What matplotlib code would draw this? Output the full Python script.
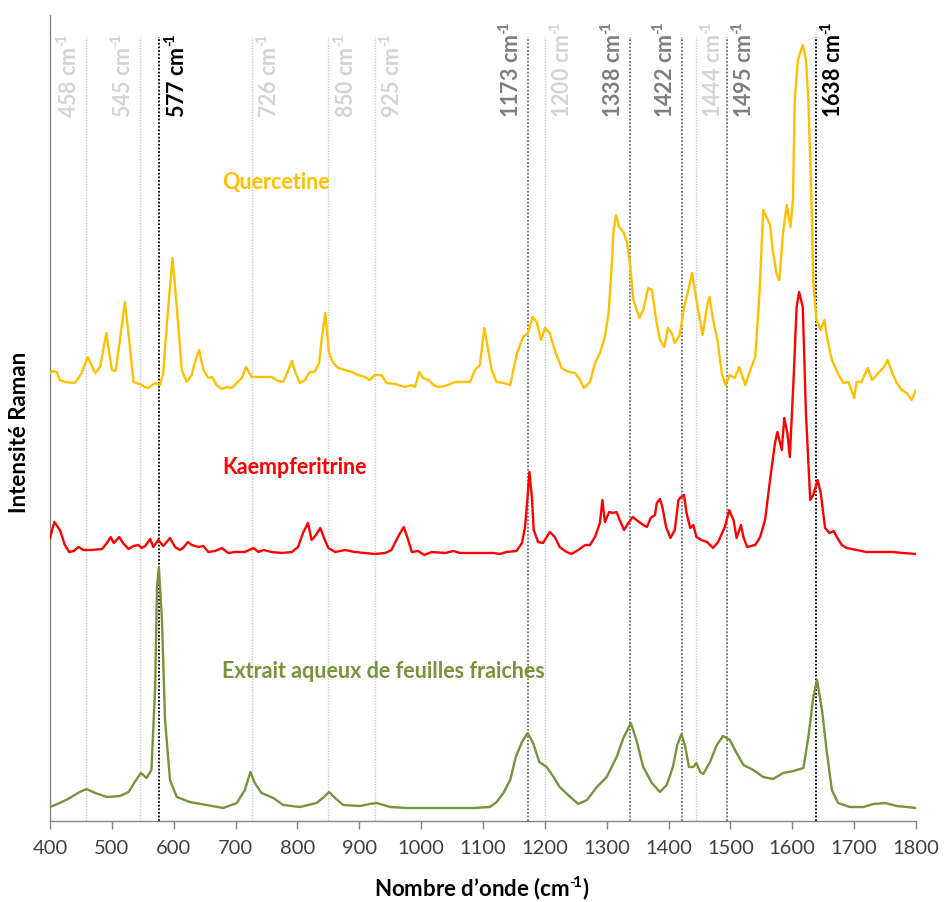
import numpy as np
import matplotlib
matplotlib.use("Agg")
from matplotlib import pyplot as plt

plt.rcParams['font.family'] = ['Lato', 'DejaVu Sans']
plt.rcParams['mathtext.fontset'] = 'custom'
plt.rcParams['mathtext.rm'] = 'Lato:bold'
plt.rcParams['mathtext.default'] = 'rm'

# spectres (nombre d'onde en cm-1, intensite en unites arbitraires, decalees)
quercetine_x = [400, 405, 411, 416, 424, 440, 446, 451, 461, 467, 473, 481, 486, 491, 495, 500,
                506, 513, 521, 528, 535, 545, 554, 559, 570, 578, 583, 589, 598, 605, 613, 621,
                629, 634, 641, 648, 656, 662, 669, 678, 686, 694, 702, 710, 717, 726, 742, 758,
                769, 777, 784, 791, 797, 804, 812, 820, 828, 835, 839, 845, 851, 858, 866, 877,
                888, 898, 909, 917, 925, 936, 944, 958, 974, 985, 990, 997, 1003, 1012, 1020, 1028,
                1039, 1055, 1071, 1079, 1087, 1095, 1102, 1109, 1114, 1122, 1133, 1144, 1149, 1155,
                1165, 1173, 1180, 1187, 1194, 1200, 1208, 1216, 1227, 1238, 1249, 1257, 1263, 1273,
                1281, 1289, 1297, 1303, 1308, 1311, 1315, 1320, 1327, 1333, 1338, 1343, 1353, 1359,
                1367, 1373, 1380, 1386, 1393, 1399, 1405, 1410, 1418, 1425, 1432, 1438, 1445, 1455,
                1462, 1466, 1472, 1479, 1486, 1492, 1499, 1507, 1514, 1524, 1532, 1540, 1547, 1553,
                1559, 1564, 1569, 1575, 1579, 1585, 1591, 1597, 1601, 1604, 1609, 1617, 1622, 1626,
                1631, 1634, 1639, 1646, 1652, 1656, 1664, 1675, 1683, 1691, 1700, 1704, 1712, 1722,
                1729, 1739, 1747, 1754, 1761, 1769, 1777, 1785, 1793, 1800]
quercetine_y = [448, 450, 449, 441, 439, 438, 443, 448, 464, 456, 448, 454, 471, 488, 471, 451,
                450, 481, 519, 481, 439, 437, 434, 433, 438, 436, 448, 498, 563, 514, 451, 439,
                446, 458, 471, 451, 443, 444, 436, 432, 434, 433, 438, 443, 454, 444, 444, 444,
                440, 439, 449, 460, 448, 438, 441, 449, 449, 458, 481, 508, 468, 458, 453, 451,
                449, 446, 444, 441, 446, 446, 438, 437, 434, 436, 434, 449, 443, 441, 436, 434,
                435, 439, 439, 439, 451, 456, 493, 469, 451, 439, 438, 436, 451, 468,
                484, 488, 504, 499, 481, 493, 488, 471, 453, 449, 448, 441, 433, 439,
                458, 468, 484, 508, 554, 591, 606, 594, 589, 578, 554, 521, 503, 511,
                533, 531, 501, 481, 474, 493, 488, 478, 486, 514, 531, 548, 521, 486,
                514, 524, 501, 481, 448, 436, 446, 443, 454, 436, 451, 464, 528, 611,
                603, 596, 568, 546, 541, 588, 616, 594, 621, 721, 761, 776, 761, 721,
                621, 538, 501, 491, 501, 484, 461, 446, 438, 439, 423, 439, 439, 453,
                441, 448, 453, 461, 449, 438, 431, 428, 421, 431]

kaempferitrine_x = [400, 407, 416, 424, 431, 438, 446, 454, 467, 484, 492, 498, 503, 512, 518, 527,
                    535, 543, 548, 554, 562, 567, 575, 583, 594, 602, 610, 615, 623, 629, 640, 648,
                    656, 667, 678, 688, 699, 715, 729, 737, 745, 758, 775, 791, 801, 809, 817, 823,
                    830, 837, 843, 850, 861, 877, 893, 909, 925, 942, 952, 960, 966, 972, 979, 985,
                    995, 1005, 1017, 1039, 1052, 1063, 1082, 1095, 1117, 1127, 1138, 1154, 1163, 1168,
                    1172, 1175, 1179, 1182, 1189, 1197, 1203, 1208, 1216, 1224, 1235, 1243, 1254, 1265,
                    1273, 1281, 1289, 1293, 1297, 1304, 1310, 1316, 1321, 1328, 1335, 1342, 1348, 1359,
                    1365, 1371, 1378, 1381, 1386, 1390, 1396, 1403, 1410, 1416, 1420, 1425, 1429, 1435,
                    1440, 1445, 1453, 1462, 1472, 1480, 1491, 1498, 1505, 1510, 1517, 1521, 1527, 1540,
                    1548, 1556, 1564, 1572, 1576, 1583, 1587, 1592, 1596, 1602, 1607, 1611, 1617, 1622,
                    1629, 1634, 1641, 1646, 1653, 1660, 1667, 1672, 1680, 1688, 1704, 1720, 1742, 1763,
                    1779, 1800]
kaempferitrine_y = [283, 299, 291, 276, 269, 270, 274, 271, 271, 272, 278, 284, 278, 284, 278, 272,
                    275, 276, 273, 275, 282, 274, 281, 275, 283, 274, 271, 273, 279, 276, 274, 275,
                    269, 270, 273, 268, 269, 269, 273, 269, 271, 269, 268, 269, 274, 288, 298, 281,
                    286, 293, 283, 273, 269, 271, 269, 268, 267, 268, 271, 281, 288, 294, 281, 269,
                    270, 266, 269, 268, 270, 268, 268, 268, 268, 267, 269, 270, 278, 294,
                    324, 349, 324, 291, 279, 278, 284, 289, 284, 274, 269, 267, 271, 276,
                    276, 284, 298, 321, 299, 309, 308, 309, 301, 291, 298, 304, 301, 296,
                    294, 303, 306, 318, 322, 314, 294, 283, 291, 321, 324, 326, 308, 293,
                    296, 284, 281, 279, 273, 279, 294, 311, 301, 283, 296, 284, 274, 276,
                    284, 301, 341, 378, 389, 371, 403, 388, 364, 441, 514, 529, 514, 408,
                    321, 326, 341, 328, 293, 288, 290, 284, 276, 273, 271, 269, 269, 269,
                    268, 267]

extrait_x = [400, 416, 432, 448, 459, 473, 492, 513, 527, 537, 547, 556, 564, 570, 573, 576,
             581, 586, 594, 605, 626, 653, 680, 702, 715, 724, 731, 742, 761, 777, 804, 831,
             843, 851, 861, 874, 901, 917, 928, 950, 977, 1030, 1084, 1111, 1122, 1133, 1144,
             1153, 1163, 1172, 1181, 1191, 1203, 1214, 1224, 1241, 1254, 1268, 1284, 1300, 1316,
             1327, 1339, 1348, 1359, 1373, 1386, 1397, 1407, 1414, 1421, 1427, 1433, 1440, 1445,
             1451, 1456, 1467, 1478, 1488, 1499, 1510, 1521, 1537, 1553, 1569, 1585, 1602, 1618,
             1626, 1634, 1640, 1648, 1656, 1664, 1674, 1693, 1715, 1731, 1750, 1769, 1800]
extrait_y = [14, 18, 23, 29, 32, 28, 24, 25, 29, 39, 48, 43, 51, 134, 234, 254,
             201, 101, 41, 24, 19, 16, 13, 18, 31, 49, 38, 28, 23, 16, 14, 18,
             24, 29, 23, 16, 15, 17, 18, 14, 13, 13, 13, 14, 19, 28, 41,
             64, 79, 88, 78, 59, 54, 44, 34, 24, 17, 21, 34, 44, 64,
             83, 98, 81, 54, 38, 29, 36, 54, 76, 87, 74, 54, 54, 58,
             49, 47, 59, 76, 85, 81, 68, 56, 51, 44, 42, 48, 50, 53,
             84, 124, 141, 111, 68, 31, 18, 14, 14, 17, 18, 15, 13]

# bandes reperees
bandes = [458, 545, 577, 726, 850, 925, 1173, 1200, 1338, 1422, 1444, 1495, 1638]
bandes_niveau = ['clair', 'clair', 'noir', 'clair', 'clair', 'clair', 'fonce', 'clair',
                 'fonce', 'fonce', 'clair', 'fonce', 'noir']
bandes_cote = [-1, -1, 1, 1, 1, 1, -1, 1, -1, -1, 1, 1, 1]

couleurs_ligne = {'clair': '#c8c8c8', 'fonce': '#6e6e6e', 'noir': '#000000'}
couleurs_texte = {'clair': '#d4d4d4', 'fonce': '#7f7f7f', 'noir': '#000000'}

exposant = '$^{\u2010\\!1}$'

fig = plt.figure(figsize=(9.46, 9.02), dpi=100)
ax = fig.add_axes([50 / 946, 1 - 821 / 902, 866 / 946, 806 / 902])

for b, niv, cote in zip(bandes, bandes_niveau, bandes_cote):
    lw = 1.0 if niv == 'clair' else 1.3
    ax.vlines(b, 0, 784, colors=couleurs_ligne[niv], linestyles=(0, (1, 1)), linewidth=lw, zorder=1)
    ax.annotate(f'{b} cm' + exposant, xy=(b, 703), xytext=(17 * cote, 0), textcoords='offset pixels',
                rotation=90, ha='center', va='bottom', fontsize=15.5, fontweight='bold',
                color=couleurs_texte[niv])

ax.plot(quercetine_x, quercetine_y, color='#FFC000', lw=1.7, zorder=3)
ax.plot(kaempferitrine_x, kaempferitrine_y, color='#FF0000', lw=1.7, zorder=3)
ax.plot(extrait_x, extrait_y, color='#77933C', lw=1.7, zorder=3)

ax.text(678, 639, 'Quercetine', color='#FFC000', fontsize=15.5, fontweight='bold', ha='left', va='center')
ax.text(678, 353, 'Kaempferitrine', color='#FF0000', fontsize=15.5, fontweight='bold', ha='left', va='center')
ax.text(678, 150, 'Extrait aqueux de feuilles fraiches', color='#77933C', fontsize=15.5,
        fontweight='bold', ha='left', va='center')

ax.set_xlim(400, 1800)
ax.set_ylim(0, 806)
ax.set_xticks(np.arange(400, 1801, 100))
ax.set_yticks([])
ax.tick_params(axis='x', direction='out', length=6, width=1, color='#868686',
               labelsize=14.5, labelcolor='#404040', pad=8)
for s in ['top', 'right']:
    ax.spines[s].set_visible(False)
for s in ['left', 'bottom']:
    ax.spines[s].set_color('#868686')
    ax.spines[s].set_linewidth(1)

fig.text(482 / 946, 1 - 888 / 902, 'Nombre d\u2019onde (cm' + exposant + ')', ha='center', va='center',
         fontsize=16, fontweight='bold', color='#000000')
fig.text(20 / 946, 1 - 432 / 902, 'Intensité Raman', ha='center', va='center', rotation=90,
         fontsize=16, fontweight='bold', color='#000000')

fig.savefig('out.png', dpi=100)
